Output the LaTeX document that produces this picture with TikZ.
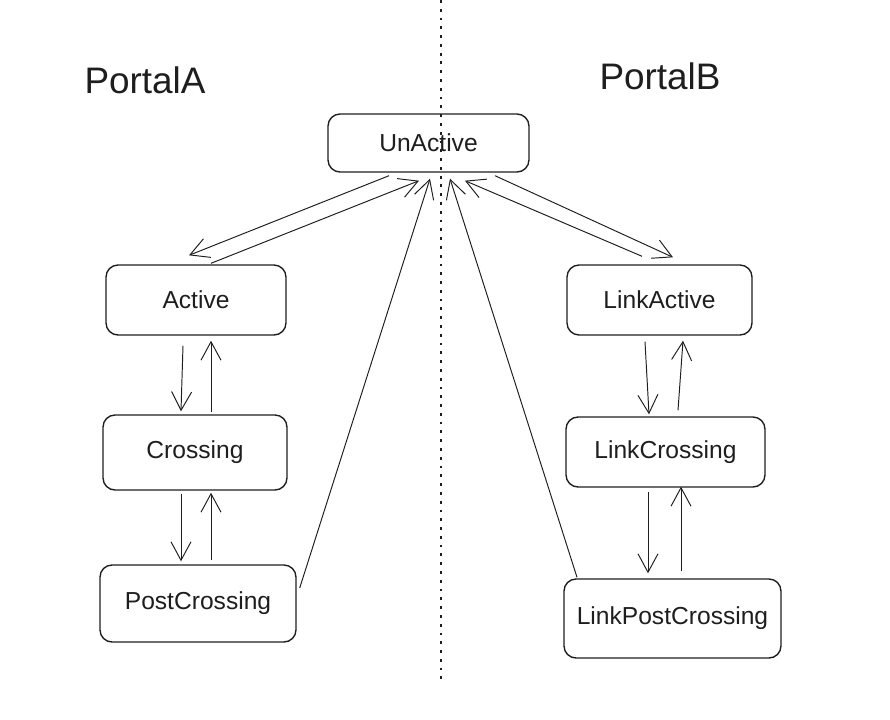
\documentclass[tikz,border=0pt]{standalone}
\usepackage{fontspec}
\setmainfont{Liberation Sans}
\usepackage{tikz}
\usetikzlibrary{arrows.meta,calc}

\definecolor{ink}{HTML}{1E1E1E}

\tikzset{
    state/.style={draw=ink, line width=0.8pt, rounded corners=0.24cm, inner sep=0pt,
        font=\fontsize{14}{16}\selectfont, text=ink},
    trans/.style={draw=ink, line width=0.55pt, -{Straight Barb[length=0.37cm,width=0.4cm,line width=0.55pt]}},
    portal/.style={font=\fontsize{21}{24}\selectfont, text=ink}
}

\begin{document}
\begin{tikzpicture}[x=0.02cm, y=-0.02cm]
    \useasboundingbox (0,0) rectangle (890,720);
    % Draw the dotted line between the two portals
    \draw[ink, line width=0.9pt, dash pattern=on 1.6pt off 3.4pt] (441,0) -- (441,685);
    \node[portal] (pa) at (145,80) {PortalA};
    \node[portal] (pb) at (660,76) {PortalB};
    % Draw the states
    \node[state, minimum width=4.02cm, minimum height=1.16cm] (una) at (428.5,143) {UnActive};
    \node[state, minimum width=3.6cm, minimum height=1.4cm] (act) at (196,300) {Active};
    \node[state, minimum width=3.68cm, minimum height=1.5cm] (cross) at (195,452.5) {Crossing};
    \node[state, minimum width=3.92cm, minimum height=1.54cm] (post) at (198,603.5) {PostCrossing};
    \node[state, minimum width=3.7cm, minimum height=1.4cm] (lact) at (659.5,300) {LinkActive};
    \node[state, minimum width=3.98cm, minimum height=1.4cm] (lcross) at (665.5,452) {LinkCrossing};
    \node[state, minimum width=4.34cm, minimum height=1.58cm] (lpost) at (672.5,618.5) {LinkPostCrossing};
    % Transitions to and from UnActive
    \draw[trans] ($(una.south)+(-39.5,3)$) -- ($(act.north)+(-7,-9)$);
    \draw[trans] ($(act.north)+(15,-1)$) -- ($(una.south)+(-9.5,8)$);
    \draw[trans] ($(post.east)+(3,-15.5)$) -- ($(una.south)+(1.5,6)$);
    \draw[trans] ($(lpost.north)+(-95.5,-1)$) -- ($(una.south)+(21.5,6)$);
    \draw[trans] ($(lact.north)+(-17.5,-8)$) -- ($(una.south)+(36.5,8)$);
    \draw[trans] ($(una.south)+(66.5,3)$) -- ($(lact.north)+(13.5,-7)$);
    % Transitions down and up each column
    \draw[trans] ($(act.south)+(-13,10)$) -- ($(cross.north)+(-14,-3)$);
    \draw[trans] ($(cross.north)+(16,-2)$) -- ($(act.south)+(15,5)$);
    \draw[trans] ($(cross.south)+(-14,3)$) -- ($(post.north)+(-17,-3)$);
    \draw[trans] ($(post.north)+(13,-4)$) -- ($(cross.south)+(16,2)$);
    \draw[trans] ($(lact.south)+(-14.5,6)$) -- ($(lcross.north)+(-16.5,-2)$);
    \draw[trans] ($(lcross.north)+(12.5,-6)$) -- ($(lact.south)+(23.5,5)$);
    \draw[trans] ($(lcross.south)+(-17.5,4)$) -- ($(lpost.north)+(-24.5,-5)$);
    \draw[trans] ($(lpost.north)+(8.5,-7)$) -- ($(lcross.south)+(15.5,-1)$);
\end{tikzpicture}
\end{document}
